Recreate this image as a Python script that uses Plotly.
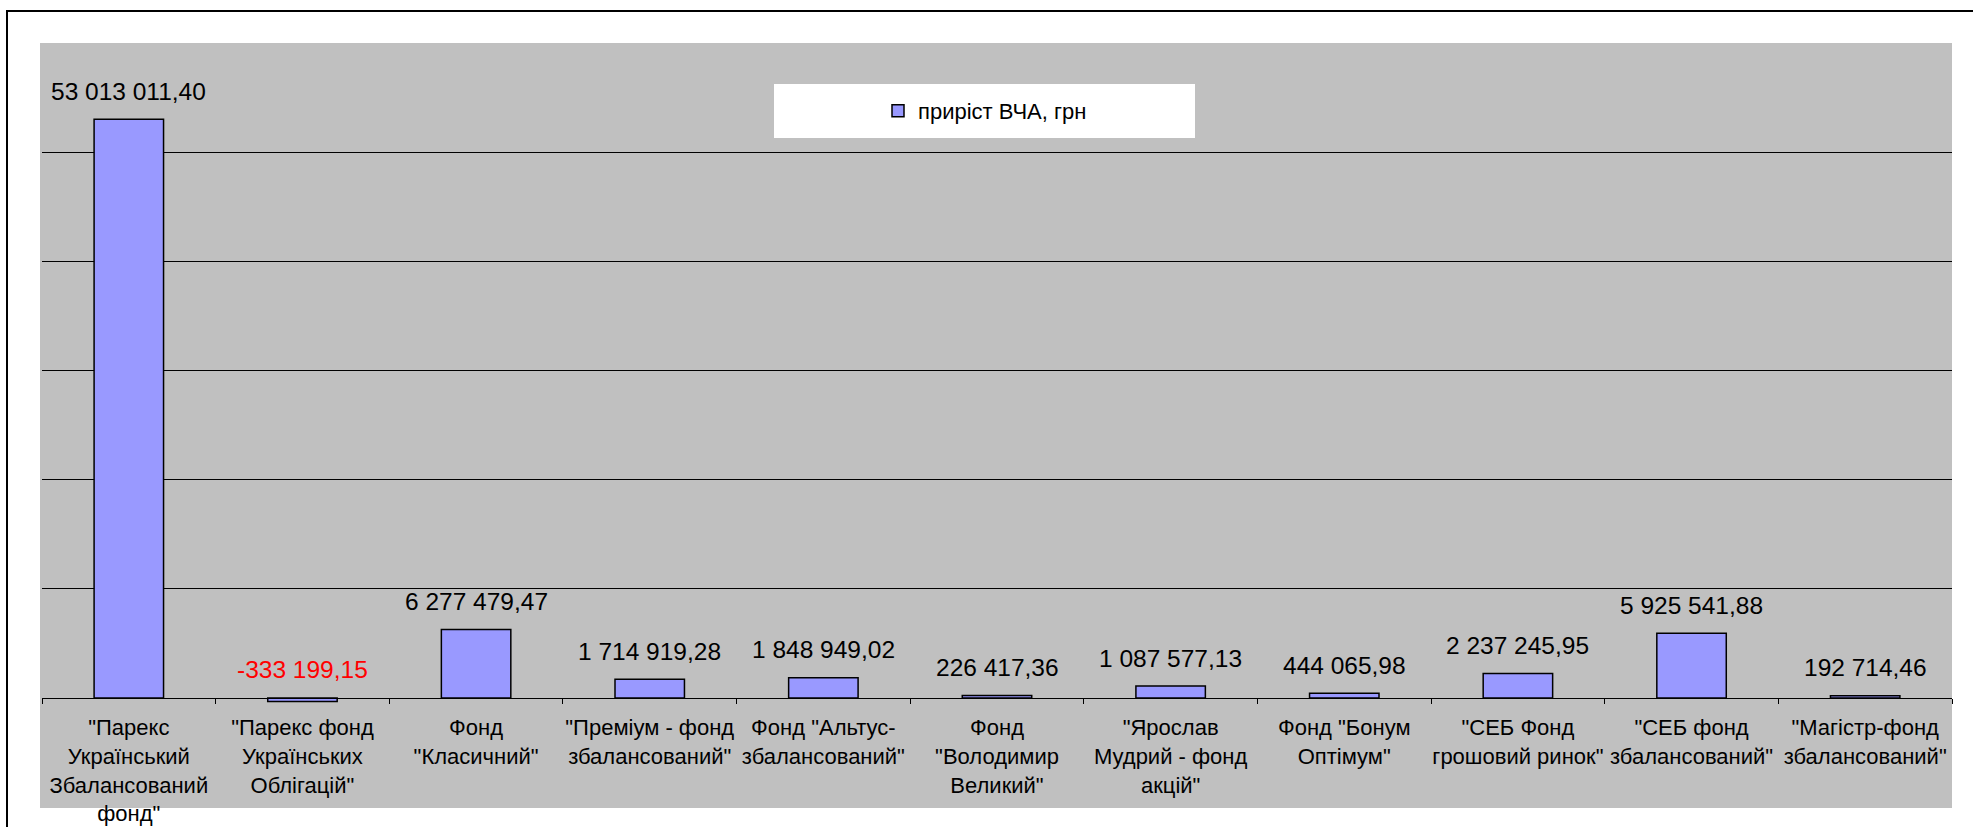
import plotly.graph_objects as go

# ---- data ----
categories = [
    '"Парекс<br>Український<br>Збалансований<br>фонд"',
    '"Парекс фонд<br>Українських<br>Облігацій"',
    'Фонд<br>"Класичний"',
    '"Преміум - фонд<br>збалансований"',
    'Фонд "Альтус-<br>збалансований"',
    'Фонд<br>"Володимир<br>Великий"',
    '"Ярослав<br>Мудрий - фонд<br>акцій"',
    'Фонд "Бонум<br>Оптімум"',
    '"СЕБ Фонд<br>грошовий ринок"',
    '"СЕБ фонд<br>збалансований"',
    '"Магістр-фонд<br>збалансований"',
]
values = [
    53013011.40, -333199.15, 6277479.47, 1714919.28, 1848949.02,
    226417.36, 1087577.13, 444065.98, 2237245.95, 5925541.88, 192714.46,
]
series_name = "приріст ВЧА, грн"
gridline_values = [10e6, 20e6, 30e6, 40e6, 50e6]

# ---- layout geometry (pixels) ----
W, H = 1973, 827
L, R, T, B = 42, 1952, 43, 703
Y_MIN, Y_MAX = -0.46e6, 60e6
FONT = "Liberation Sans, Arial, sans-serif"


def fx(px):
    return (px - L) / (R - L)


def fy(py):
    return (B - py) / (B - T)


def fmt(v):
    s = f"{v:,.2f}"
    return s.replace(",", " ").replace(".", ",")


fig = go.Figure(
    go.Bar(
        x=categories,
        y=values,
        name=series_name,
        width=0.4,
        marker=dict(color="#9999FF", line=dict(color="black", width=1.5)),
        showlegend=True,
        hoverinfo="skip",
    )
)

annotations = []
for c, v in zip(categories, values):
    annotations.append(
        dict(
            x=c, y=max(v, 0), xref="x", yref="y",
            text=fmt(v), showarrow=False,
            yanchor="middle", yshift=28,
            font=dict(family=FONT, size=24.5, color="#FF0000" if v < 0 else "black"),
        )
    )

shapes = [
    # grey chart area (includes category label zone)
    dict(type="rect", xref="paper", yref="paper",
         x0=fx(40), x1=fx(1952), y0=fy(808), y1=fy(43),
         fillcolor="#C0C0C0", line=dict(width=0), layer="below"),
    # white legend box
    dict(type="rect", xref="paper", yref="paper",
         x0=fx(774), x1=fx(1195), y0=fy(138), y1=fy(84),
         fillcolor="white", line=dict(width=0), layer="below"),
    # outer chart border
    dict(type="rect", xref="paper", yref="paper",
         x0=fx(7), x1=fx(1990), y0=fy(850), y1=fy(11),
         fillcolor="rgba(0,0,0,0)", line=dict(color="black", width=2), layer="below"),
]

fig.update_layout(
    width=W, height=H,
    margin=dict(l=L, r=W - R, t=T, b=H - B, pad=0, autoexpand=False),
    paper_bgcolor="white",
    plot_bgcolor="rgba(0,0,0,0)",
    showlegend=True,
    bargap=0.6,
    font=dict(family=FONT, color="black"),
    legend=dict(
        x=fx(985), y=fy(111), xanchor="center", yanchor="middle",
        bgcolor="rgba(0,0,0,0)", font=dict(family=FONT, size=22, color="black"),
    ),
    annotations=annotations,
    shapes=shapes,
    xaxis=dict(
        type="category",
        anchor="free",
        position=(0 - Y_MIN) / (Y_MAX - Y_MIN),
        showline=True, linecolor="black", linewidth=1,
        ticks="outside", ticklen=5, tickcolor="black", tickwidth=1,
        tickson="boundaries",
        showgrid=False,
        tickfont=dict(family=FONT, size=22, color="black"),
        tickangle=0,
        ticklabelstandoff=10,
        automargin=False,
    ),
    yaxis=dict(
        range=[Y_MIN, Y_MAX],
        tickmode="array", tickvals=gridline_values,
        showticklabels=False, ticks="",
        showgrid=True, gridcolor="black", gridwidth=1,
        zeroline=False, showline=False,
        automargin=False,
    ),
)

fig.write_html(
    "out.html",
    config={"displayModeBar": False},
    post_script="document.body.style.margin='0px';document.body.style.overflow='hidden';",
)
